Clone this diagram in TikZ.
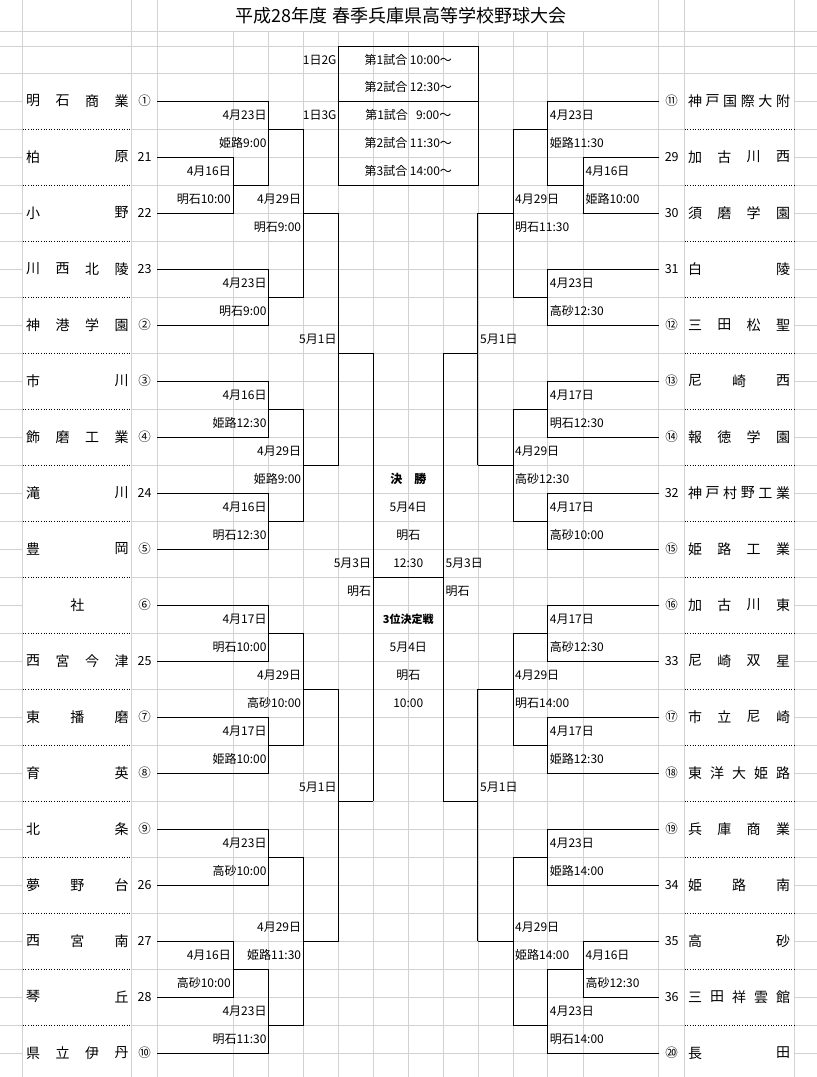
\documentclass[tikz,border=0pt]{standalone}
\usepackage{fontspec}
\setmainfont{Noto Sans CJK JP}
\usetikzlibrary{positioning}

\ExplSyntaxOn
\int_new:N \l_dn_int
\int_new:N \l_dncount_int
\tl_new:N \l_dn_tl
% spread the letters of a name evenly over its cell
\NewDocumentCommand\distname{mmmm}{
  \tl_set:Nx \l_dn_tl {#4}
  \int_set:Nn \l_dncount_int {\tl_count:N \l_dn_tl}
  \int_zero:N \l_dn_int
  \tl_map_inline:Nn \l_dn_tl {
    \node[tname] at ({ifthenelse(\int_use:N \l_dncount_int==1,(#1+#2)/2,#1+(#2-#1)*\int_use:N \l_dn_int/max(\int_use:N \l_dncount_int-1,1))}, #3) {##1};
    \int_incr:N \l_dn_int
  }
}
\ExplSyntaxOff

\tikzset{
  tname/.style={font=\fontsize{14}{14}\selectfont, inner sep=0pt},
  tnum/.style={font=\fontsize{12.5}{13}\selectfont, inner sep=0pt},
  lab/.style={font=\fontsize{12}{12}\selectfont, inner sep=2pt},
  gridline/.style={gray!35, line width=0.6pt},
  sepline/.style={black, dotted, line width=0.6pt},
  bracket/.style={black, line width=0.9pt},
}

\begin{document}
\begin{tikzpicture}[x=1pt, y=-1pt]
  \useasboundingbox (0,0) rectangle (817,1077);

  % spreadsheet grid
  \foreach \y in {31,46,73,101,...,1053} {
    \draw[gridline] (0,\y) -- (22.7,\y);
    \draw[gridline] (157.3,\y) -- (658.7,\y);
    \draw[gridline] (794,\y) -- (817,\y);
  }
  \foreach \y in {31,46,73} {
    \draw[gridline] (22.7,\y) -- (157.3,\y);
    \draw[gridline] (658.7,\y) -- (794,\y);
  }
  \foreach \x in {22.7,131.7,157.3,658.7,684.7,794}
    \draw[gridline] (\x,0) -- (\x,1077);
  \foreach \x in {233,268.7,303.3,338.7,373.3,408.3,443.3,478,513,547.7,583.3}
    \draw[gridline] (\x,31) -- (\x,1077);
  \foreach \y in {129,185,...,1025} {
    \draw[gridline] (131.7,\y) -- (157.3,\y);
    \draw[gridline] (658.7,\y) -- (684.7,\y);
    \draw[sepline] (22.7,\y) -- (131.7,\y);
    \draw[sepline] (684.7,\y) -- (794,\y);
  }

  % title
  \node[font=\fontsize{18}{18}\selectfont] (title) at (401,16) {平成28年度 春季兵庫県高等学校野球大会};

  % game times box
  \draw[bracket] (338.7,46) rectangle (478,185);
  \draw[bracket] (338.7,101) -- (478,101);
  \node[lab, anchor=east] (g2) at (338.7,60) {1日2G};
  \node[lab, anchor=east] (g3) at (338.7,115) {1日3G};
  \foreach \y/\t in {60/第1試合 10:00～, 87/第2試合 12:30～, 115/第1試合\ \ \ 9:00～, 143/第2試合 11:30～, 171/第3試合 14:00～}
    \node[lab] at (408.3,\y) {\t};

  % brackets, left half and its mirror
  \foreach \sx/\dx in {1/0, -1/816.6} {
    \begin{scope}[shift={(\dx,0)}, xscale=\sx]
      \draw[bracket] (157.3,157) -| (233,213) -- (157.3,213);
      \draw[bracket] (157.3,101) -| (268.7,185) -- (233,185);
      \draw[bracket] (157.3,269) -| (268.7,325) -- (157.3,325);
      \draw[bracket] (268.7,129) -| (303.3,297) -- (268.7,297);
      \draw[bracket] (303.3,213) -- (338.7,213);
      \draw[bracket] (157.3,381) -| (268.7,437) -- (157.3,437);
      \draw[bracket] (157.3,493) -| (268.7,549) -- (157.3,549);
      \draw[bracket] (268.7,409) -| (303.3,521) -- (268.7,521);
      \draw[bracket] (303.3,465) -- (338.7,465);
      \draw[bracket] (338.7,213) -- (338.7,465);
      \draw[bracket] (338.7,353) -| (373.3,801);
      \draw[bracket] (157.3,605) -| (268.7,661) -- (157.3,661);
      \draw[bracket] (157.3,717) -| (268.7,773) -- (157.3,773);
      \draw[bracket] (268.7,633) -| (303.3,745) -- (268.7,745);
      \draw[bracket] (303.3,689) -- (338.7,689);
      \draw[bracket] (157.3,829) -| (268.7,885) -- (157.3,885);
      \draw[bracket] (157.3,941) -| (233,997) -- (157.3,997);
      \draw[bracket] (157.3,1053) -| (268.7,969) -- (233,969);
      \draw[bracket] (268.7,857) -| (303.3,1025) -- (268.7,1025);
      \draw[bracket] (303.3,941) -- (338.7,941);
      \draw[bracket] (338.7,689) -- (338.7,941);
      \draw[bracket] (338.7,801) -- (373.3,801);
    \end{scope}
  }
  \draw[bracket] (373.3,577) -- (443.3,577);

  % final and third place
  \node[lab, font=\fontsize{12}{12}\selectfont\bfseries] (final) at (408.3,479) {決\quad 勝};
  \node[lab, font=\fontsize{11}{11}\selectfont\bfseries] (third) at (408.3,619) {3位決定戦};
  \foreach \y/\t in {507/5月4日, 535/明石, 563/12:30, 647/5月4日, 675/明石, 703/10:00}
    \node[lab] at (408.3,\y) {\t};

  % left dates
  \foreach \x/\y/\t in {233/171/4月16日, 233/199/明石10:00, 268.7/115/4月23日, 268.7/143/姫路9:00,
      268.7/283/4月23日, 268.7/311/明石9:00, 303.3/199/4月29日, 303.3/227/明石9:00, 338.7/339/5月1日,
      268.7/395/4月16日, 268.7/423/姫路12:30, 268.7/507/4月16日, 268.7/535/明石12:30,
      303.3/451/4月29日, 303.3/479/姫路9:00, 373.3/563/5月3日, 373.3/591/明石,
      268.7/619/4月17日, 268.7/647/明石10:00, 268.7/731/4月17日, 268.7/759/姫路10:00,
      303.3/675/4月29日, 303.3/703/高砂10:00, 338.7/787/5月1日,
      268.7/843/4月23日, 268.7/871/高砂10:00, 233/955/4月16日, 233/983/高砂10:00,
      268.7/1011/4月23日, 268.7/1039/明石11:30, 303.3/927/4月29日, 303.3/955/姫路11:30}
    \node[lab, anchor=east] at (\x,\y) {\t};

  % right dates
  \foreach \x/\y/\t in {583.3/171/4月16日, 583.3/199/姫路10:00, 547.7/115/4月23日, 547.7/143/姫路11:30,
      547.7/283/4月23日, 547.7/311/高砂12:30, 513/199/4月29日, 513/227/明石11:30, 478/339/5月1日,
      547.7/395/4月17日, 547.7/423/明石12:30, 547.7/507/4月17日, 547.7/535/高砂10:00,
      513/451/4月29日, 513/479/高砂12:30, 443.3/563/5月3日, 443.3/591/明石,
      547.7/619/4月17日, 547.7/647/高砂12:30, 547.7/731/4月17日, 547.7/759/姫路12:30,
      513/675/4月29日, 513/703/明石14:00, 478/787/5月1日,
      547.7/843/4月23日, 547.7/871/姫路14:00, 583.3/955/4月16日, 583.3/983/高砂12:30,
      547.7/1011/4月23日, 547.7/1039/明石14:00, 513/927/4月29日, 513/955/姫路14:00}
    \node[lab, anchor=west] at (\x,\y) {\t};

  % teams
  \foreach \y/\nm/\mk in {101/明石商業/①, 157/柏原/21, 213/小野/22, 269/川西北陵/23, 325/神港学園/②,
      381/市川/③, 437/飾磨工業/④, 493/滝川/24, 549/豊岡/⑤, 605/社/⑥, 661/西宮今津/25,
      717/東播磨/⑦, 773/育英/⑧, 829/北条/⑨, 885/夢野台/26, 941/西宮南/27, 997/琴丘/28, 1053/県立伊丹/⑩} {
    \distname{33}{121.5}{\y}{\nm}
    \node[tnum] at (144.5,\y) {\mk};
  }
  \foreach \y/\nm/\mk in {101/神戸国際大附/⑪, 157/加古川西/29, 213/須磨学園/30, 269/白陵/31, 325/三田松聖/⑫,
      381/尼崎西/⑬, 437/報徳学園/⑭, 493/神戸村野工業/32, 549/姫路工業/⑮, 605/加古川東/⑯, 661/尼崎双星/33,
      717/市立尼崎/⑰, 773/東洋大姫路/⑱, 829/兵庫商業/⑲, 885/姫路南/34, 941/高砂/35, 997/三田祥雲館/36, 1053/長田/⑳} {
    \distname{695}{783}{\y}{\nm}
    \node[tnum] at (671.7,\y) {\mk};
  }
\end{tikzpicture}
\end{document}
